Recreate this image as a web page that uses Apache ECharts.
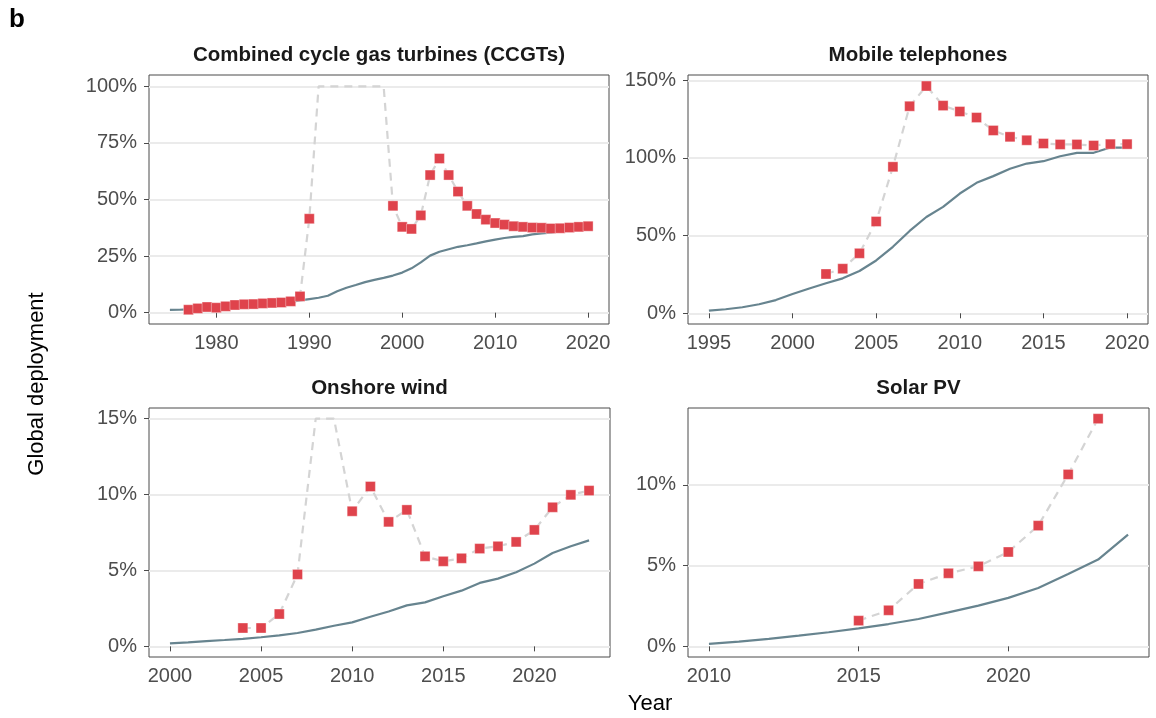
<!DOCTYPE html>
<html>
<head>
<meta charset="utf-8">
<script src="https://cdn.jsdelivr.net/npm/echarts@6/dist/echarts.min.js"></script>
<style>
  html, body { margin: 0; padding: 0; background: #ffffff; }
  #chart { width: 1156px; height: 718px; }
</style>
</head>
<body>
<div id="chart"></div>
<script>
// ---- Combined cycle gas turbines (CCGTs) ----
const ccgtYears = [1975,1976,1977,1978,1979,1980,1981,1982,1983,1984,1985,1986,1987,1988,1989,1990,
  1991,1992,1993,1994,1995,1996,1997,1998,1999,2000,2001,2002,2003,2004,2005,2006,2007,2008,2009,2010,
  2011,2012,2013,2014,2015,2016,2017,2018,2019,2020];
const ccgtDeployment = [1.2,1.3,1.5,1.7,1.9,2.1,2.4,2.7,3.0,3.3,3.6,3.9,4.3,4.8,5.4,6.0,
  6.6,7.5,9.5,11.0,12.2,13.5,14.5,15.4,16.4,17.7,19.6,22.2,25.2,26.9,28.0,29.1,29.8,30.6,31.5,32.3,
  33.0,33.5,33.8,34.6,35.0,35.3,36.0,36.6,37.2,37.8];
const ccgtGrowthYears = [1977,1978,1979,1980,1981,1982,1983,1984,1985,1986,1987,1988,1989,1990,
  1991,1992,1993,1994,1995,1996,1997,1998,1999,2000,2001,2002,2003,2004,2005,2006,2007,2008,2009,2010,
  2011,2012,2013,2014,2015,2016,2017,2018,2019,2020];
// values at the top of the scale (100) are off-scale years: drawn on the dashed line only
const ccgtGrowth = [1.3,1.9,2.5,2.2,2.8,3.4,3.7,3.8,4.1,4.3,4.5,5.0,7.2,41.5,
  100,100,100,100,100,100,100,100,47.2,37.9,37.0,43.0,60.8,68.1,60.8,53.5,47.2,43.6,41.1,39.6,
  38.9,38.2,37.9,37.6,37.5,37.2,37.3,37.6,37.9,38.2];
const ccgtXTicks = [1980,1990,2000,2010,2020];
const ccgtYTicks = [0,25,50,75,100];

// ---- Mobile telephones ----
const mobileYears = [1995,1996,1997,1998,1999,2000,2001,2002,2003,2004,2005,2006,2007,2008,2009,2010,
  2011,2012,2013,2014,2015,2016,2017,2018,2019,2020];
const mobileDeployment = [1.7,2.6,3.9,5.8,8.5,12.4,16.0,19.3,22.5,27.2,34.0,42.8,53.0,62.0,68.5,77.1,
  84.0,88.3,93.0,96.4,97.9,101.1,103.3,103.3,106.7,106.7];
const mobileGrowthYears = [2002,2003,2004,2005,2006,2007,2008,2009,2010,2011,2012,2013,2014,2015,
  2016,2017,2018,2019,2020];
const mobileGrowth = [25.3,28.7,38.6,59.1,94.3,133.3,146.3,133.7,129.9,126.0,117.7,113.6,111.4,109.3,
  108.7,108.7,108.0,108.9,108.9];
const mobileXTicks = [1995,2000,2005,2010,2015,2020];
const mobileYTicks = [0,50,100,150];

// ---- Onshore wind ----
const windYears = [2000,2001,2002,2003,2004,2005,2006,2007,2008,2009,2010,2011,2012,2013,2014,2015,
  2016,2017,2018,2019,2020,2021,2022,2023];
const windDeployment = [0.20,0.26,0.35,0.42,0.50,0.60,0.72,0.88,1.10,1.36,1.58,1.95,2.30,2.70,2.90,3.30,
  3.67,4.18,4.46,4.88,5.45,6.15,6.59,6.98];
const windGrowthYears = [2004,2005,2006,2007,2008,2009,2010,2011,2012,2013,2014,2015,2016,2017,2018,
  2019,2020,2021,2022,2023];
// 15 = top of the scale (off-scale years)
const windGrowth = [1.21,1.21,2.13,4.74,15,15,8.9,10.53,8.2,8.99,5.93,5.6,5.8,6.44,6.59,
  6.88,7.67,9.16,9.98,10.26];
const windXTicks = [2000,2005,2010,2015,2020];
const windYTicks = [0,5,10,15];

// ---- Solar PV ----
const solarYears = [2010,2011,2012,2013,2014,2015,2016,2017,2018,2019,2020,2021,2022,2023,2024];
const solarDeployment = [0.15,0.29,0.46,0.66,0.87,1.11,1.38,1.69,2.10,2.52,3.00,3.61,4.48,5.37,6.91];
const solarGrowthYears = [2015,2016,2017,2018,2019,2020,2021,2022,2023];
const solarGrowth = [1.59,2.23,3.86,4.52,4.95,5.84,7.47,10.64,14.09];
const solarXTicks = [2010,2015,2020];
const solarYTicks = [0,5,10];

// ---- styling ----
const FONT = '"Liberation Sans", Arial, Helvetica, sans-serif';
const LABEL_COLOR = '#4d4d4d';
const FRAME_COLOR = '#4a4a4a';
const GRID_COLOR = '#ebebeb';
const LINE_COLOR = '#67848f';
const DASH_COLOR = '#d4d4d4';
const POINT_COLOR = '#df434c';

const panels = [
  { title: 'Combined cycle gas turbines (CCGTs)', years: ccgtYears, dep: ccgtDeployment,
    gYears: ccgtGrowthYears, growth: ccgtGrowth, cap: 100, xTicks: ccgtXTicks, yTicks: ccgtYTicks,
    box: { left: 149, top: 75, width: 460, height: 249 },
    x: [1972.75, 2022.25], y: [-5, 105] },
  { title: 'Mobile telephones', years: mobileYears, dep: mobileDeployment,
    gYears: mobileGrowthYears, growth: mobileGrowth, cap: null, xTicks: mobileXTicks, yTicks: mobileYTicks,
    box: { left: 688, top: 75, width: 460, height: 249 },
    x: [1993.75, 2021.25], y: [-6.9, 153.4] },
  { title: 'Onshore wind', years: windYears, dep: windDeployment,
    gYears: windGrowthYears, growth: windGrowth, cap: 15, xTicks: windXTicks, yTicks: windYTicks,
    box: { left: 149, top: 408, width: 461, height: 249 },
    x: [1998.85, 2024.15], y: [-0.7, 15.7] },
  { title: 'Solar PV', years: solarYears, dep: solarDeployment,
    gYears: solarGrowthYears, growth: solarGrowth, cap: null, xTicks: solarXTicks, yTicks: solarYTicks,
    box: { left: 688, top: 408, width: 461, height: 249 },
    x: [2009.3, 2024.7], y: [-0.66, 14.75] }
];

const grids = [], xAxes = [], yAxes = [], series = [], graphics = [];

panels.forEach((p, i) => {
  grids.push(Object.assign({ show: true, borderColor: FRAME_COLOR, borderWidth: 1,
    backgroundColor: 'transparent' }, p.box));

  xAxes.push({
    type: 'value', gridIndex: i, min: p.x[0], max: p.x[1],
    axisLine: { show: false },
    axisTick: { show: true, inside: false, length: 5, customValues: p.xTicks,
      lineStyle: { color: FRAME_COLOR, width: 1 } },
    axisLabel: { customValues: p.xTicks, margin: 9, color: LABEL_COLOR, fontSize: 20,
      fontFamily: FONT, formatter: v => String(v) },
    splitLine: { show: false }
  });

  yAxes.push({
    type: 'value', gridIndex: i, min: p.y[0], max: p.y[1],
    axisLine: { show: false },
    axisTick: { show: true, inside: false, length: 5, customValues: p.yTicks,
      lineStyle: { color: FRAME_COLOR, width: 1 } },
    axisLabel: { customValues: p.yTicks, margin: 12, color: LABEL_COLOR, fontSize: 20,
      fontFamily: FONT, formatter: v => v + '%' },
    splitLine: { show: true, lineStyle: { color: GRID_COLOR, width: 1.8 } }
  });

  // cumulative deployment share
  series.push({
    type: 'line', xAxisIndex: i, yAxisIndex: i, z: 2,
    data: p.years.map((yr, k) => [yr, p.dep[k]]),
    showSymbol: false, symbol: 'none', smooth: false,
    lineStyle: { color: LINE_COLOR, width: 2.2 },
    silent: true, animation: false
  });

  // growth-rate trace, dashed through all years
  series.push({
    type: 'line', xAxisIndex: i, yAxisIndex: i, z: 3,
    data: p.gYears.map((yr, k) => [yr, p.growth[k]]),
    showSymbol: false, symbol: 'none',
    lineStyle: { color: DASH_COLOR, width: 2.2, type: [8, 6] },
    silent: true, animation: false
  });

  // growth-rate points, omitted where the value sits off the scale
  series.push({
    type: 'scatter', xAxisIndex: i, yAxisIndex: i, z: 4,
    data: p.gYears.map((yr, k) => [yr, p.growth[k]])
      .filter(d => p.cap === null || d[1] < p.cap),
    symbol: 'rect', symbolSize: 10,
    itemStyle: { color: POINT_COLOR, borderColor: 'rgba(255,255,255,0.6)', borderWidth: 0.6, opacity: 1 },
    silent: true, animation: false
  });

  graphics.push({
    type: 'text',
    x: p.box.left + p.box.width / 2, y: p.box.top - 20,
    style: { text: p.title, fill: '#1a1a1a', font: 'bold 20.5px ' + FONT,
      textAlign: 'center', textVerticalAlign: 'middle' }
  });
});

graphics.push({
  type: 'text', x: 9, y: 20,
  style: { text: 'b', fill: '#000', font: 'bold 26px ' + FONT, textAlign: 'left', textVerticalAlign: 'middle' }
});
graphics.push({
  type: 'text', x: 37, y: 384, rotation: Math.PI / 2,
  style: { text: 'Global deployment', fill: '#000', font: '22px ' + FONT,
    textAlign: 'center', textVerticalAlign: 'middle' }
});
graphics.push({
  type: 'text', x: 650, y: 704,
  style: { text: 'Year', fill: '#000', font: '22px ' + FONT,
    textAlign: 'center', textVerticalAlign: 'middle' }
});

const chart = echarts.init(document.getElementById('chart'), null, { renderer: 'canvas' });
chart.setOption({
  backgroundColor: '#ffffff',
  animation: false,
  grid: grids,
  xAxis: xAxes,
  yAxis: yAxes,
  series: series,
  graphic: graphics
});
</script>
</body>
</html>
